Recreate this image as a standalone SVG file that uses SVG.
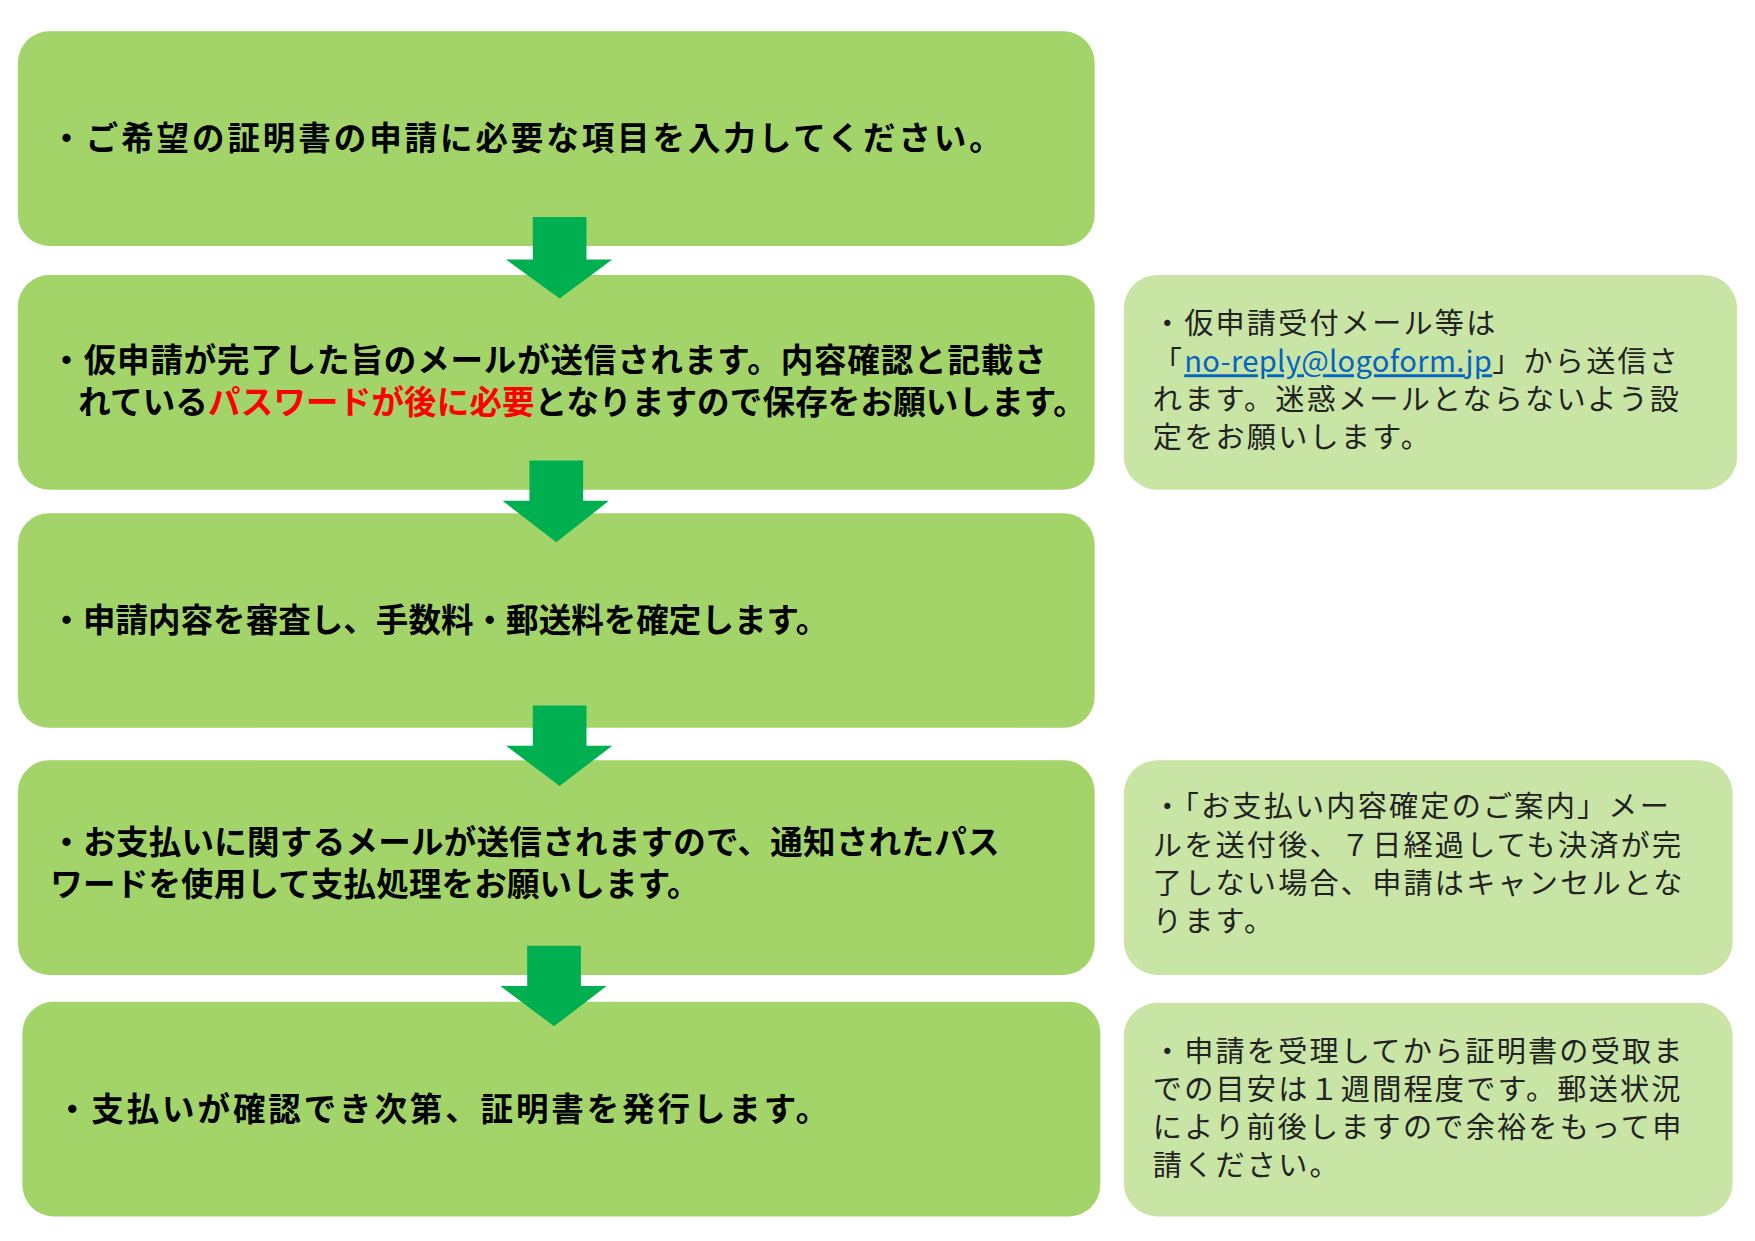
<svg xmlns="http://www.w3.org/2000/svg" width="1755" height="1241" viewBox="0 0 1755 1241">
<style>
.m{fill:#A2D46A}
.s{fill:#C9E5A6}
.a{fill:#00B050}
.t{font-family:"Noto Sans CJK JP",sans-serif;font-weight:bold;font-size:29px;fill:#000}
.n{font-family:"Noto Sans CJK JP",sans-serif;font-size:26px;letter-spacing:2px;fill:#222}
.red{fill:#FF0000}
.link{fill:#0563C1;text-decoration:underline;letter-spacing:0.3px}
</style>
<rect width="1755" height="1241" fill="#fff"/>
<g transform="scale(1.1193,1.118)">
<g id="step1"><rect class="m" x="16" y="28" width="962" height="192" rx="28"/>
<text class="t" x="45" y="134" textLength="850" lengthAdjust="spacing">・ご希望の証明書の申請に必要な項目を入力してください。</text></g>
<g id="step2"><rect class="m" x="16" y="246" width="962" height="192" rx="28"/>
<text class="t" x="45" y="333" textLength="890" lengthAdjust="spacing">・仮申請が完了した旨のメールが送信されます。内容確認と記載さ</text>
<text class="t" x="70" y="370" textLength="900" lengthAdjust="spacing">れている<tspan class="red">パスワードが後に必要</tspan>となりますので保存をお願いします。</text></g>
<g id="step3"><rect class="m" x="16" y="459" width="962" height="192" rx="28"/>
<text class="t" x="45" y="565" textLength="695" lengthAdjust="spacing">・申請内容を審査し、手数料・郵送料を確定します。</text></g>
<g id="step4"><rect class="m" x="16" y="680" width="962" height="192" rx="28"/>
<text class="t" x="45" y="764" textLength="848" lengthAdjust="spacing">・お支払いに関するメールが送信されますので、通知されたパス</text>
<text class="t" x="45" y="801" textLength="580" lengthAdjust="spacing">ワードを使用して支払処理をお願いします。</text></g>
<g id="step5"><rect class="m" x="20" y="896" width="963" height="192" rx="28"/>
<text class="t" x="50" y="1003" textLength="690" lengthAdjust="spacing">・支払いが確認でき次第、証明書を発行します。</text></g>
<g id="note1"><rect class="s" x="1004" y="246" width="548" height="192" rx="30"/>
<text class="n" x="1030" y="299">・仮申請受付メール等は</text>
<text class="n" x="1030" y="333">「<tspan class="link">no-reply@logoform.jp</tspan>」から送信さ</text>
<text class="n" x="1030" y="367">れます。迷惑メールとならないよう設</text>
<text class="n" x="1030" y="401">定をお願いします。</text></g>
<g id="note2"><rect class="s" x="1004" y="680" width="544" height="192" rx="30"/>
<text class="n" x="1030" y="731">・「お支払い内容確定のご案内」メー</text>
<text class="n" x="1030" y="766">ルを送付後、７日経過しても決済が完</text>
<text class="n" x="1030" y="800">了しない場合、申請はキャンセルとな</text>
<text class="n" x="1030" y="834">ります。</text></g>
<g id="note3"><rect class="s" x="1004" y="897" width="544" height="191" rx="30"/>
<text class="n" x="1030" y="950">・申請を受理してから証明書の受取ま</text>
<text class="n" x="1030" y="984">での目安は１週間程度です。郵送状況</text>
<text class="n" x="1030" y="1018">により前後しますので余裕をもって申</text>
<text class="n" x="1030" y="1052">請ください。</text></g>
<g id="connectors">
<polygon class="a" points="476,194 524,194 524,232 547,232 500,267 452,232 476,232"/>
<polygon class="a" points="473,412 521,412 521,448 544,448 497,485 449,448 473,448"/>
<polygon class="a" points="476,631 524,631 524,667 547,667 500,703 452,667 476,667"/>
<polygon class="a" points="471,846 519,846 519,882 542,882 495,918 447,882 471,882"/>
</g>
</g>
</svg>
